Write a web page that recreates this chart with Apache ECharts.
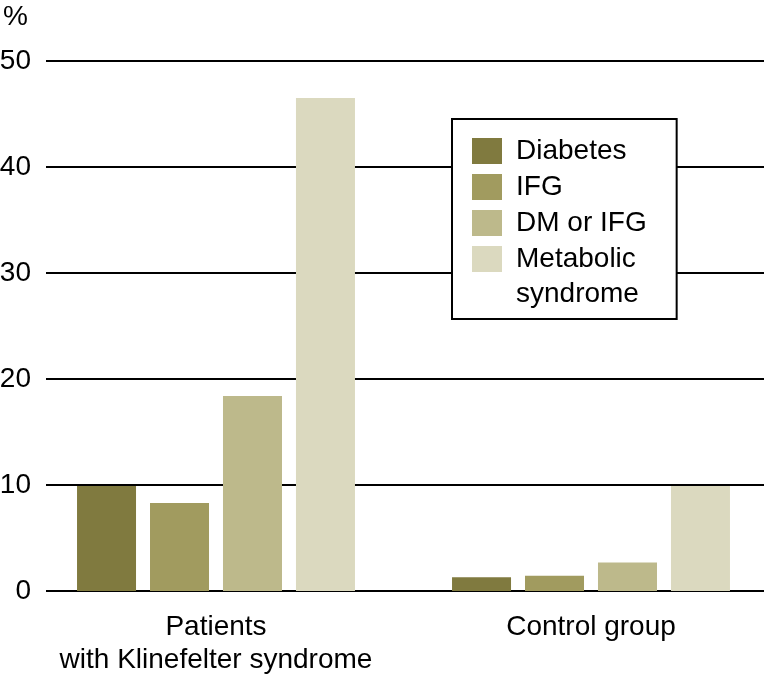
<!DOCTYPE html>
<html>
<head>
<meta charset="utf-8">
<script src="https://cdn.jsdelivr.net/npm/echarts@6/dist/echarts.min.js"></script>
<style>html,body{margin:0;padding:0;background:#fff}#c{width:764px;height:682px}</style>
</head>
<body>
<div id="c"></div>
<script>
const categories = ['Patients\nwith Klinefelter syndrome', 'Control group'];
const seriesNames = ['Diabetes', 'IFG', 'DM or IFG', 'Metabolic syndrome'];
const diabetes = [9.9, 1.3];
const ifg = [8.3, 1.45];
const dmOrIfg = [18.4, 2.7];
const metabolic = [46.5, 9.9];
const yMin = 0, yMax = 50, yStep = 10;
const colors = ['#807a3f', '#a19b5f', '#bdb98b', '#dbd9bf'];

const FONT = 'Liberation Sans, Arial, sans-serif';
const values = [diabetes, ifg, dmOrIfg, metabolic];

const chart = echarts.init(document.getElementById('c'), null, {renderer: 'canvas'});
chart.setOption({
  animation: false,
  backgroundColor: '#fff',
  title: {text: '%', left: 3, top: 3, padding: 0, textStyle: {fontSize: 28, fontWeight: 'normal', color: '#000', fontFamily: FONT}},
  grid: [
    {left: 46, right: 0, top: 61, bottom: 91, outerBoundsMode: 'none'},
    {left: 28.5, width: 750, top: 61, bottom: 91, outerBoundsMode: 'none'}
  ],
  xAxis: [
    {gridIndex: 0, type: 'category', data: categories, show: false},
    {gridIndex: 1, type: 'category', data: categories,
     axisLine: {show: false}, axisTick: {show: false},
     axisLabel: {interval: 0, fontSize: 28, lineHeight: 33, margin: 20, color: '#000', fontFamily: FONT}}
  ],
  yAxis: [
    {gridIndex: 0, type: 'value', min: yMin, max: yMax, interval: yStep,
     axisLine: {show: false}, axisTick: {show: false},
     axisLabel: {fontSize: 28, margin: 15, color: '#000', fontFamily: FONT},
     splitLine: {show: true, lineStyle: {color: '#000', width: 2}}},
    {gridIndex: 1, type: 'value', min: yMin, max: yMax, show: false}
  ],
  legend: {
    orient: 'vertical', left: 452, top: 119,
    itemWidth: 30, itemHeight: 26, itemGap: 0, icon: 'rect',
    padding: [14, 30, 42, 20],
    borderColor: '#000', borderWidth: 2, backgroundColor: '#fff',
    selectedMode: false,
    textStyle: {fontSize: 28, lineHeight: 36, color: '#000', fontFamily: FONT, padding: [0, 0, 0, 9]},
    formatter: n => n === 'Metabolic syndrome' ? 'Metabolic' : n,
    data: seriesNames
  },
  graphic: [{
    type: 'text', z: 100, x: 516, y: 294,
    style: {text: 'syndrome', fontSize: 28, fontFamily: FONT, fill: '#000', verticalAlign: 'middle', align: 'left'}
  }],
  series: seriesNames.map((name, i) => ({
    name, type: 'bar', xAxisIndex: 1, yAxisIndex: 1,
    data: values[i], barWidth: 59, barGap: '23.7%',
    itemStyle: {color: colors[i]}
  }))
});
</script>
</body>
</html>
